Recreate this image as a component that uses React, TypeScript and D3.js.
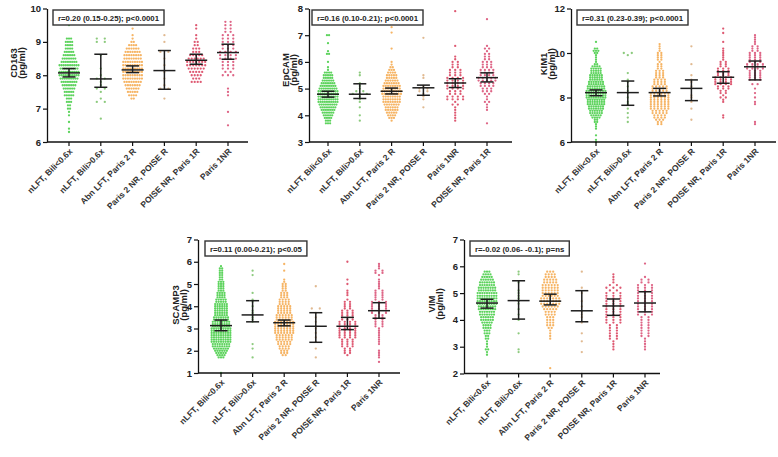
import React, { useEffect, useRef } from 'react';
import * as d3 from 'd3';

// group labels (EpCAM panel has the last two swapped)
const groups = ["nLFT, Bili<0.6x", "nLFT, Bili>0.6x", "Abn LFT, Paris 2 R", "Paris 2 NR, POISE R", "POISE NR, Paris 1R", "Paris 1NR"];
const groupsEpcam = ["nLFT, Bili<0.6x", "nLFT, Bili>0.6x", "Abn LFT, Paris 2 R", "Paris 2 NR, POISE R", "Paris 1NR", "POISE NR, Paris 1R"];
const groupColors = ["#34c834", "#6fbd5c", "#f4a13d", "#d8a874", "#d6304f", "#d63f68"];

// every count array = number of dots per 0.1 pg/ml row, starting at the group's start value
const binStep = 0.1;

// CD163
const cd163Start = [6.3, 6.7, 7.3, 7.3, 7.8, 6.5];
const cd163Counts = [
    [1,1,0,1,0,1,1,2,2,3,3,5,5,6,7,8,9,10,10,9,10,8,7,6,5,4,4,4,3,0,0,0,1],
    [1,0,0,0,0,2,1,0,1,2,1,1,2,1,0,1,0,0,0,1,0,0,0,2,2],
    [2,4,5,6,7,8,9,9,9,9,9,9,8,8,7,6,4,2,1,1,0,1],
    [1,0,0,2,1,0,1,0,1,0,1,0,1,0,2,0,0,1,0,1],
    [4,3,4,5,6,7,7,6,5,3,3,2,2,1,1,0,1,1],
    [1,0,0,0,1,0,0,0,0,1,1,1,0,0,0,3,2,3,3,3,4,4,4,3,3,3,3,3,2,2,2,2],
];
const cd163Mean = [8.07, 7.89, 8.16, 8.14, 8.45, 8.68];
const cd163Low = [7.95, 7.64, 8.08, 7.58, 8.33, 8.48];
const cd163High = [8.2, 8.63, 8.28, 8.74, 8.63, 8.93];
const cd163Ticks = [6, 7, 8, 9, 10];
const cd163Note = "r=0.20 (0.15-0.25); p<0.0001";

// EpCAM
const epcamStart = [3.7, 3.8, 3.8, 4.3, 3.8, 3.7];
const epcamCounts = [
    [3,3,4,5,6,7,8,9,10,10,10,10,10,9,8,7,6,5,5,4,1,1,0,1,0,0,2,1,0,0,1,0,0,2],
    [1,0,1,0,0,1,0,1,1,1,3,2,1,1,1,0,0,1,1],
    [1,3,4,5,6,6,7,8,8,8,9,9,8,8,7,6,5,5,4,3,2,1,1,0,0,0,0,1,0,0,0,0,0,1,0,1],
    [1,0,0,1,1,1,2,2,1,0,0,1,1,0,0,0,0,0,0,0,0,0,0,0,0,0,1],
    [1,1,1,1,1,1,2,1,4,4,3,3,4,4,4,4,4,3,3,3,2,2,2,1,1,0,0,0,1,0,0,0,0,0,0,0,0,0,0,0,0,1],
    [1,0,0,0,0,1,1,1,2,1,1,2,3,3,4,4,5,5,4,4,4,3,3,3,2,2,2,1,2,1,0,0,0,0,0,0,0,0,0,1],
];
const epcamMean = [4.79, 4.79, 4.9, 5.03, 5.21, 5.41];
const epcamLow = [4.68, 4.63, 4.8, 4.75, 5.04, 5.25];
const epcamHigh = [4.9, 5.18, 5.02, 5.13, 5.37, 5.59];
const epcamTicks = [3, 4, 5, 6, 7, 8];
const epcamNote = "r=0.16 (0.10-0.21); p<0.0001";

// KIM1
const kim1Start = [6.0, 6.9, 6.8, 7.0, 7.1, 6.8];
const kim1Counts = [
    [1,1,0,1,0,0,1,1,1,2,2,4,5,6,6,7,7,8,8,8,9,9,9,9,8,8,7,7,6,6,6,5,5,5,4,2,1,1,1,1,2,3,2,0,0,1],
    [1,0,1,0,1,0,1,0,1,1,0,1,0,1,1,0,1,0,1,1,0,0,1,0,0,0,0,0,0,0,1,2],
    [2,2,3,4,4,5,5,6,6,6,6,6,6,6,6,5,5,5,4,4,4,3,3,3,3,2,2,2,1,2,2,2,2,1,1,1,1],
    [1,0,0,0,0,1,0,0,1,0,1,1,0,0,1,1,0,1,1,0,1,0,0,0,0,1,0,0,0,0,0,0,0,1],
    [1,1,0,0,0,0,0,1,1,2,1,2,2,3,3,4,4,4,4,3,3,3,3,2,2,2,1,1,1,1,1,1,0,0,1,0,0,0,1,0,1],
    [1,1,0,0,0,0,0,0,0,1,1,0,1,0,1,0,1,0,2,0,3,3,3,3,3,4,4,4,3,3,3,3,3,2,2,2,1,1,1,1,1],
];
const kim1Mean = [8.22, 8.22, 8.22, 8.41, 8.91, 9.38];
const kim1Low = [8.08, 7.65, 8.07, 7.86, 8.64, 8.79];
const kim1High = [8.34, 8.74, 8.41, 8.79, 9.16, 9.64];
const kim1Ticks = [6, 8, 10, 12];
const kim1Note = "r=0.31 (0.23-0.39); p<0.0001";

// SCAMP3
const scamp3Start = [1.0, 1.7, 1.8, 1.7, 1.8, 1.5];
const scamp3Counts = [
    [1,0,0,0,0,0,0,3,4,5,6,7,8,8,9,9,9,9,9,9,9,8,8,8,7,7,6,6,6,6,6,6,5,5,4,4,4,3,3,3,3,3,2,2,2,2,2,2,1],
    [1,0,0,0,1,0,1,0,0,0,0,0,0,0,0,0,1,1,1,1,1,1,0,1,0,1,1,0,0,1,0,0,0,0,0,0,0,1,0,1],
    [2,3,3,4,4,5,5,6,6,6,7,7,7,7,7,7,6,6,6,5,5,5,5,4,4,4,3,3,3,2,2,2,2,1,1,0,0,0,1,0,0,1],
    [1,0,0,0,1,0,0,1,0,1,0,1,0,1,1,0,1,0,1,0,1,0,2,0,0,0,0,0,0,0,0,0,1],
    [1,2,2,2,3,3,3,3,4,4,4,4,4,4,4,4,3,3,3,3,3,2,2,2,2,1,0,1,1,1,0,0,1,0,1,0,0,0,0,0,0,0,1],
    [1,0,1,1,1,1,0,0,1,1,1,1,1,1,1,1,2,2,2,2,2,2,3,3,3,3,3,3,2,2,2,2,2,1,1,1,1,1,0,1,2,2,1,1,1],
];
const scamp3Mean = [3.13, 3.61, 3.26, 3.1, 3.1, 3.8];
const scamp3Low = [2.9, 3.3, 3.12, 2.38, 2.95, 3.46];
const scamp3High = [3.38, 4.25, 3.38, 3.71, 3.5, 4.16];
const scamp3Ticks = [1, 2, 3, 4, 5, 6, 7];
const scamp3Note = "r=0.11 (0.00-0.21); p<0.05";

// VIM
const vimStart = [2.7, 2.8, 2.2, 2.8, 2.9, 2.9];
const vimCounts = [
    [1,1,2,1,1,1,2,2,3,3,4,4,5,6,6,7,7,8,8,9,9,9,9,9,8,8,7,7,6,5,4,3],
    [1,1,0,0,0,0,0,1,0,0,0,0,1,0,1,0,1,0,1,1,1,1,1,1,0,0,1,0,0,1,1],
    [1,0,0,0,0,0,0,0,0,0,0,1,1,1,1,2,3,3,3,3,4,4,5,6,7,7,7,6,6,6,6,6,5,5,4,4,3],
    [1,0,0,0,1,0,0,1,0,0,0,1,0,1,1,1,0,1,0,1,0,0,1,0,1,0,0,0,0,0,1],
    [1,1,1,1,2,2,2,2,2,2,3,3,3,3,3,3,3,3,3,3,3,3,2,3,2,1,1,1,1],
    [1,1,1,1,1,2,2,2,2,2,2,2,2,3,3,3,3,3,3,3,3,3,3,3,3,2,2,1,0,0,0,0,1],
];
const vimMean = [4.63, 4.72, 4.7, 4.34, 4.52, 4.63];
const vimLow = [4.44, 4.03, 4.56, 3.93, 4.17, 4.3];
const vimHigh = [4.77, 5.46, 4.96, 5.09, 4.78, 5.05];
const vimTicks = [2, 3, 4, 5, 6, 7];
const vimNote = "r=-0.02 (0.06- -0.1); p=ns";

const width = 778;
const height = 457;
const font = "'Liberation Sans', Arial, sans-serif";

function drawPanel(svg, p) {
    const y = d3.scaleLinear()
        .domain([p.ticks[0], p.ticks[p.ticks.length - 1]])
        .range([p.bottom, p.top]);
    const x = d3.scalePoint()
        .domain(p.groups)
        .range([p.first, p.last]);

    const g = svg.append("g").attr("font-family", font);

    // dots, one row per bin, spread sideways
    p.counts.forEach((bins, gi) => {
        const maxCount = d3.max(bins);
        const gap = Math.min(8, 21 / maxCount);
        const pts = [];
        bins.forEach((k, bi) => {
            const v = p.start[gi] + bi * binStep;
            for (let j = 0; j < k; j++) pts.push({ v, off: (j - (k - 1) / 2) * gap });
        });
        g.append("g")
            .selectAll("circle")
            .data(pts)
            .join("circle")
            .attr("cx", d => x(p.groups[gi]) + d.off)
            .attr("cy", d => y(d.v))
            .attr("r", 1.15)
            .attr("fill", groupColors[gi])
            .attr("fill-opacity", 0.8);
    });

    // mean +/- CI
    const eb = g.append("g").attr("stroke", "#1e1e1e").attr("stroke-width", 1.5);
    p.groups.forEach((c, i) => {
        const cx = x(c);
        eb.append("line").attr("x1", cx).attr("x2", cx).attr("y1", y(p.low[i])).attr("y2", y(p.high[i]));
        [p.low[i], p.high[i]].forEach(v => {
            eb.append("line").attr("x1", cx - 6.5).attr("x2", cx + 6.5).attr("y1", y(v)).attr("y2", y(v));
        });
        eb.append("line").attr("x1", cx - 11).attr("x2", cx + 11).attr("y1", y(p.mean[i])).attr("y2", y(p.mean[i]));
    });

    // y axis
    const yAxis = g.append("g")
        .attr("transform", `translate(${p.left},0)`)
        .call(d3.axisLeft(y).tickValues(p.ticks).tickFormat(d3.format("d")).tickSize(4).tickPadding(2).tickSizeOuter(0));
    yAxis.select(".domain").attr("stroke", "#111").attr("stroke-width", 1.3);
    yAxis.selectAll(".tick line").attr("stroke", "#111").attr("stroke-width", 1.2);
    yAxis.selectAll("text")
        .attr("font-family", font)
        .attr("font-size", 9.5)
        .attr("font-weight", "bold")
        .attr("fill", "#222");

    // x axis
    g.append("line")
        .attr("x1", p.left).attr("x2", p.right)
        .attr("y1", p.bottom).attr("y2", p.bottom)
        .attr("stroke", "#111").attr("stroke-width", 1.3);
    p.groups.forEach(c => {
        g.append("line")
            .attr("x1", x(c)).attr("x2", x(c))
            .attr("y1", p.bottom).attr("y2", p.bottom + 4)
            .attr("stroke", "#111").attr("stroke-width", 1.2);
        g.append("text")
            .attr("transform", `translate(${x(c) + 4},${p.bottom + 10}) rotate(-45)`)
            .attr("text-anchor", "end")
            .attr("font-size", 8.5)
            .attr("font-weight", "bold")
            .attr("fill", "#333")
            .text(c);
    });

    // axis title
    [[p.name, p.t1], ["(pg/ml)", p.t2]].forEach(([t, dx]) => {
        g.append("text")
            .attr("transform", `translate(${p.left + dx + 3.5},${p.titleY}) rotate(-90)`)
            .attr("text-anchor", "middle")
            .attr("font-size", 9.5)
            .attr("font-weight", "bold")
            .attr("fill", "#222")
            .text(t);
    });

    // correlation box
    const note = g.append("g").attr("transform", `translate(${p.left + p.boxDx},${p.top + 1.5})`);
    const rect = note.append("rect")
        .attr("height", 15)
        .attr("fill", "#fff")
        .attr("stroke", "#333")
        .attr("stroke-width", 1.4);
    const txt = note.append("text")
        .attr("y", 10.5)
        .attr("font-size", 7.8)
        .attr("font-weight", "bold")
        .attr("fill", "#222")
        .text(p.note);
    const w = txt.node().getComputedTextLength();
    rect.attr("width", w + 10);
    txt.attr("x", 5);
}

function App() {
    const chartRef = useRef(null);

    useEffect(() => {
        const panels = [
            { name: "CD163", groups, start: cd163Start, counts: cd163Counts, mean: cd163Mean, low: cd163Low, high: cd163High, ticks: cd163Ticks, note: cd163Note,
              left: 47, first: 69, last: 228, right: 248, top: 8.5, bottom: 142, t1: -34, t2: -26, titleY: 63, boxDx: 6 },
            { name: "EpCAM", groups: groupsEpcam, start: epcamStart, counts: epcamCounts, mean: epcamMean, low: epcamLow, high: epcamHigh, ticks: epcamTicks, note: epcamNote,
              left: 309, first: 328, last: 487, right: 512, top: 8.5, bottom: 142, t1: -24, t2: -16, titleY: 70, boxDx: 3 },
            { name: "KIM1", groups, start: kim1Start, counts: kim1Counts, mean: kim1Mean, low: kim1Low, high: kim1High, ticks: kim1Ticks, note: kim1Note,
              left: 571, first: 596, last: 755, right: 776, top: 8.5, bottom: 142, t1: -28, t2: -20, titleY: 64, boxDx: 6 },
            { name: "SCAMP3", groups, start: scamp3Start, counts: scamp3Counts, mean: scamp3Mean, low: scamp3Low, high: scamp3High, ticks: scamp3Ticks, note: scamp3Note,
              left: 198, first: 221, last: 379, right: 400, top: 239.5, bottom: 373, t1: -23, t2: -15, titleY: 305, boxDx: 7 },
            { name: "VIM", groups, start: vimStart, counts: vimCounts, mean: vimMean, low: vimLow, high: vimHigh, ticks: vimTicks, note: vimNote,
              left: 464, first: 487, last: 645, right: 660, top: 239.5, bottom: 373.5, t1: -33, t2: -25, titleY: 304, boxDx: 6 },
        ];

        const svg = d3.select(chartRef.current);
        svg.selectAll("*").remove();
        panels.forEach(p => drawPanel(svg, p));
    }, []);

    return (
        <svg ref={chartRef} width={width} height={height}
             style={{ position: 'absolute', left: 0, top: 0, background: '#fff' }}>
        </svg>
    );
}

export default App;
